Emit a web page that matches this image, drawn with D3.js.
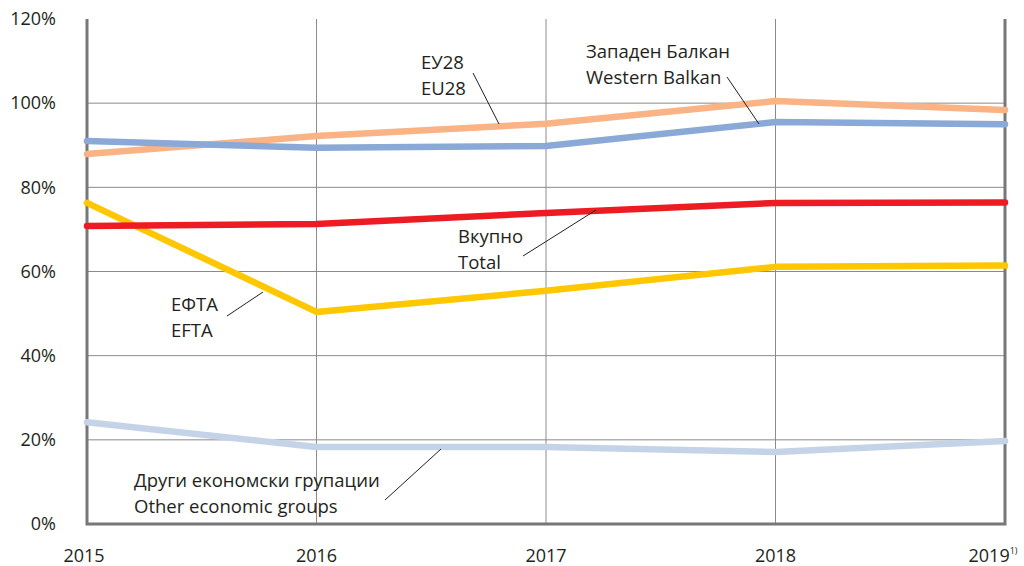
<!DOCTYPE html>
<html lang="mk">
<head>
  <meta charset="UTF-8">
  <title>Chart</title>
  <style>
    body { margin: 0; background: #fff; font-family: "Open Sans", sans-serif; }
    .grid line { stroke: #8a8a8a; stroke-width: 1; }
    .frame { stroke: #777; stroke-width: 3; fill: none; }
    .tick-label { font-size: 18px; fill: #231f20; }
    .note { font-size: 18.5px; fill: #231f20; }
    .leader { stroke: #231f20; stroke-width: 1; }
    .series { fill: none; stroke-width: 6.5; stroke-linejoin: round; stroke-linecap: round; }
  </style>
  <script src="https://d3js.org/d3.v7.min.js"></script>
</head>
<body>
<svg id="chart" width="1024" height="566"></svg>
<script>
/* data */
var years = ["2015", "2016", "2017", "2018", "2019"];
var yTicks = [0, 20, 40, 60, 80, 100, 120];

var eu28 = [87.9, 92.2, 95.1, 100.5, 98.4];
var westernBalkan = [91.0, 89.4, 89.8, 95.5, 95.0];
var total = [70.8, 71.3, 73.9, 76.3, 76.4];
var efta = [76.3, 50.4, 55.4, 61.1, 61.4];
var other = [24.2, 18.3, 18.3, 17.1, 19.7];

var series = [
  {name: "other", values: other, color: "#c5d3e8"},
  {name: "efta", values: efta, color: "#ffc700"},
  {name: "total", values: total, color: "#ed1c24"},
  {name: "eu28", values: eu28, color: "#f9b385"},
  {name: "wb", values: westernBalkan, color: "#8aa9d6"}
];

var svg = d3.select("#chart"),
  margin = {top: 19, right: 19, bottom: 42, left: 87},
  width = 1024 - margin.left - margin.right,
  height = 566 - margin.top - margin.bottom;

var x = d3.scalePoint().domain(years).range([0, width]);
var y = d3.scaleLinear().domain([0, 120]).range([height, 0]);

var g = svg.append("g")
  .attr("transform", "translate(" + margin.left + "," + margin.top + ")");

// gridlines
var grid = g.append("g").attr("class", "grid");
grid.selectAll(".h")
  .data(yTicks.filter(function (d) { return d > 0 && d < 120; }))
  .enter().append("line")
  .attr("x1", 0).attr("x2", width)
  .attr("y1", function (d) { return y(d); })
  .attr("y2", function (d) { return y(d); });
grid.selectAll(".v")
  .data(years.slice(1, -1))
  .enter().append("line")
  .attr("x1", function (d) { return x(d); })
  .attr("x2", function (d) { return x(d); })
  .attr("y1", 0).attr("y2", height);

// frame: left, bottom, right
g.append("path")
  .attr("class", "frame")
  .attr("d", "M0,0V" + height + "H" + width + "V0");

// y labels
g.selectAll(".ylab")
  .data(yTicks)
  .enter().append("text")
  .attr("class", "tick-label")
  .attr("x", -31)
  .attr("y", function (d) { return y(d); })
  .attr("dy", "0.35em")
  .attr("text-anchor", "end")
  .text(function (d) { return d + "%"; });

// x labels
var xl = g.selectAll(".xlab")
  .data(years)
  .enter().append("text")
  .attr("class", "tick-label")
  .attr("x", function (d, i) { return x(d) + (i === 0 ? -3 : i === years.length - 1 ? -12 : 0); })
  .attr("y", height + 38)
  .attr("text-anchor", "middle")
  .text(function (d) { return d; });
xl.filter(function (d, i) { return i === years.length - 1; })
  .append("tspan")
  .attr("dy", -8)
  .attr("font-size", "9px")
  .text("1)");

// lines
var line = d3.line()
  .x(function (d, i) { return x(years[i]); })
  .y(function (d) { return y(d); });

g.selectAll(".series")
  .data(series)
  .enter().append("path")
  .attr("class", "series")
  .attr("stroke", function (d) { return d.color; })
  .attr("d", function (d) { return line(d.values); });

// annotations (page coords)
var notes = [
  {lines: ["ЕУ28", "EU28"], x: 421, y: 69, leader: [473, 73, 499, 124]},
  {lines: ["Западен Балкан", "Western Balkan"], x: 586, y: 58, leader: [727, 77, 759, 124]},
  {lines: ["Вкупно", "Total"], x: 458, y: 243, leader: [523, 256, 596, 210]},
  {lines: ["ЕФТА", "EFTA"], x: 171, y: 311, leader: [227, 316, 263, 292]},
  {lines: ["Други економски групации", "Other economic groups"], x: 134, y: 487, leader: [385, 500, 441, 449]}
];

var ann = svg.append("g");
notes.forEach(function (n) {
  ann.append("line")
    .attr("class", "leader")
    .attr("x1", n.leader[0]).attr("y1", n.leader[1])
    .attr("x2", n.leader[2]).attr("y2", n.leader[3]);
  n.lines.forEach(function (t, i) {
    ann.append("text")
      .attr("class", "note")
      .attr("x", n.x)
      .attr("y", n.y + i * 26)
      .text(t);
  });
});
</script>
</body>
</html>
